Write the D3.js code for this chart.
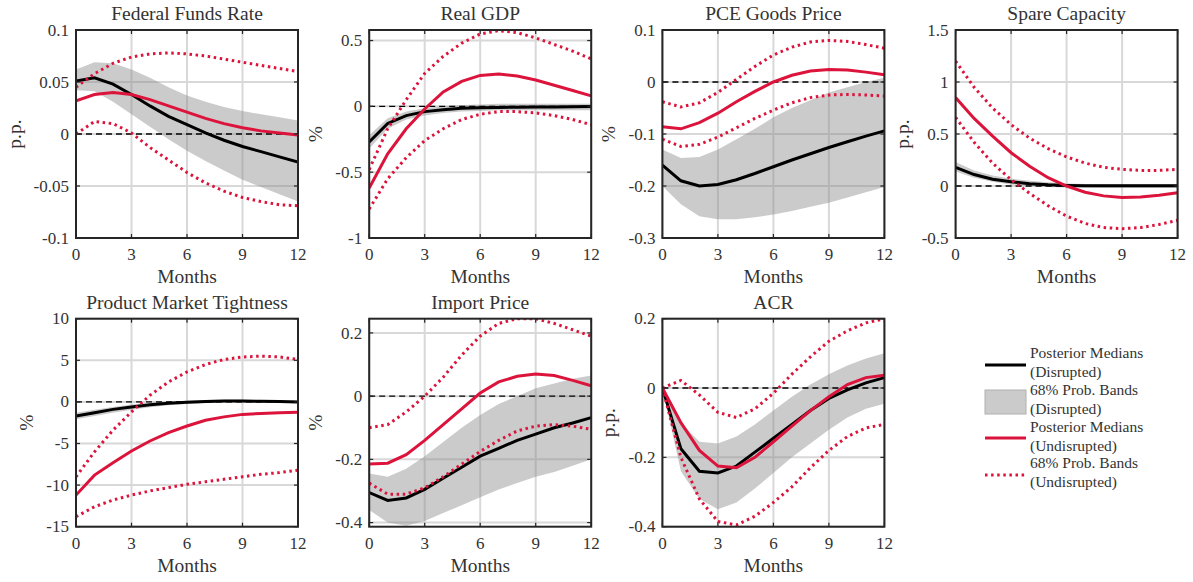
<!DOCTYPE html>
<html>
<head>
<meta charset="utf-8">
<script src="https://cdn.jsdelivr.net/npm/d3@7"></script>
<style>
  body { margin: 0; background: #fff; }
  svg { display: block; }
  text { font-family: "Liberation Serif", "DejaVu Serif", serif; fill: #333; }
</style>
</head>
<body>
<div id="container"></div>
<script>

// horizon (months) and x ticks
var months = [0,1,2,3,4,5,6,7,8,9,10,11,12];
var xTicks = [0,3,6,9,12];

// Federal Funds Rate
var ffrMedD = [0.051,0.054,0.048,0.038,0.027,0.017,0.009,0.001,-0.006,-0.012,-0.017,-0.022,-0.027];
var ffrHiD  = [0.062,0.069,0.068,0.062,0.054,0.045,0.037,0.031,0.026,0.022,0.019,0.016,0.013];
var ffrLoD  = [0.042,0.041,0.031,0.019,0.007,-0.005,-0.016,-0.026,-0.035,-0.044,-0.051,-0.058,-0.065];
var ffrMedU = [0.032,0.038,0.040,0.038,0.033,0.027,0.021,0.015,0.010,0.006,0.003,0.001,-0.001];
var ffrHiU  = [0.045,0.058,0.068,0.074,0.077,0.078,0.077,0.075,0.072,0.069,0.066,0.063,0.060];
var ffrLoU  = [0.000,0.012,0.010,0.001,-0.013,-0.025,-0.037,-0.047,-0.055,-0.061,-0.065,-0.068,-0.069];

// Real GDP
var gdpMedD = [-0.27,-0.13,-0.07,-0.04,-0.025,-0.015,-0.01,-0.008,-0.006,-0.005,-0.004,-0.003,-0.002];
var gdpHiD  = [-0.22,-0.09,-0.04,-0.015,0.0,0.01,0.015,0.02,0.02,0.02,0.02,0.02,0.02];
var gdpLoD  = [-0.32,-0.17,-0.10,-0.07,-0.05,-0.04,-0.035,-0.03,-0.03,-0.03,-0.03,-0.03,-0.03];
var gdpMedU = [-0.62,-0.36,-0.17,-0.02,0.11,0.19,0.235,0.245,0.23,0.20,0.16,0.12,0.08];
var gdpHiU  = [-0.48,-0.17,0.05,0.25,0.38,0.48,0.55,0.575,0.56,0.52,0.47,0.42,0.36];
var gdpLoU  = [-0.78,-0.55,-0.39,-0.26,-0.17,-0.10,-0.06,-0.04,-0.04,-0.05,-0.07,-0.10,-0.14];

// PCE Goods Price
var pceMedD = [-0.16,-0.19,-0.20,-0.197,-0.188,-0.176,-0.163,-0.15,-0.138,-0.126,-0.115,-0.104,-0.094];
var pceHiD  = [-0.13,-0.146,-0.144,-0.13,-0.11,-0.09,-0.068,-0.05,-0.035,-0.02,-0.01,0.0,0.008];
var pceLoD  = [-0.20,-0.235,-0.258,-0.264,-0.264,-0.26,-0.255,-0.248,-0.24,-0.232,-0.222,-0.212,-0.202];
var pceMedU = [-0.086,-0.09,-0.078,-0.06,-0.038,-0.018,0.0,0.013,0.021,0.024,0.023,0.019,0.014];
var pceHiU  = [-0.038,-0.048,-0.04,-0.02,0.005,0.03,0.052,0.067,0.077,0.08,0.078,0.072,0.065];
var pceLoU  = [-0.11,-0.124,-0.12,-0.106,-0.088,-0.07,-0.054,-0.04,-0.03,-0.025,-0.024,-0.025,-0.027];

// Spare Capacity
var scMedD = [0.18,0.11,0.065,0.04,0.022,0.012,0.006,0.003,0.002,0.002,0.002,0.002,0.002];
var scHiD  = [0.23,0.15,0.10,0.07,0.05,0.035,0.025,0.02,0.02,0.02,0.02,0.02,0.02];
var scLoD  = [0.14,0.08,0.04,0.015,0.0,-0.01,-0.015,-0.018,-0.02,-0.02,-0.02,-0.02,-0.02];
var scMedU = [0.85,0.65,0.48,0.32,0.19,0.08,0.0,-0.06,-0.095,-0.11,-0.105,-0.09,-0.065];
var scHiU  = [1.2,0.95,0.75,0.59,0.46,0.36,0.28,0.22,0.18,0.16,0.15,0.15,0.16];
var scLoU  = [0.66,0.42,0.22,0.06,-0.07,-0.19,-0.29,-0.36,-0.40,-0.41,-0.40,-0.37,-0.33];

// Product Market Tightness
var pmtMedD = [-1.7,-1.3,-0.9,-0.6,-0.35,-0.15,-0.05,0.05,0.1,0.1,0.08,0.05,0.0];
var pmtHiD  = [-1.3,-0.95,-0.6,-0.3,-0.1,0.05,0.15,0.22,0.25,0.25,0.22,0.2,0.17];
var pmtLoD  = [-2.1,-1.7,-1.3,-0.95,-0.65,-0.4,-0.25,-0.12,-0.05,-0.03,-0.05,-0.1,-0.15];
var pmtMedU = [-11.2,-8.8,-7.3,-5.9,-4.7,-3.7,-2.9,-2.2,-1.8,-1.5,-1.4,-1.3,-1.25];
var pmtHiU  = [-9.0,-6.0,-3.4,-1.2,0.8,2.4,3.6,4.5,5.1,5.4,5.5,5.4,5.1];
var pmtLoU  = [-13.8,-12.6,-11.8,-11.2,-10.7,-10.3,-9.9,-9.6,-9.3,-9.0,-8.7,-8.5,-8.2];

// Import Price
var impMedD = [-0.305,-0.33,-0.322,-0.295,-0.26,-0.225,-0.19,-0.165,-0.14,-0.12,-0.10,-0.085,-0.068];
var impHiD  = [-0.245,-0.255,-0.23,-0.19,-0.145,-0.10,-0.06,-0.025,0.0,0.025,0.04,0.055,0.065];
var impLoD  = [-0.36,-0.40,-0.41,-0.395,-0.37,-0.345,-0.32,-0.295,-0.275,-0.255,-0.24,-0.22,-0.20];
var impMedU = [-0.215,-0.212,-0.185,-0.14,-0.09,-0.04,0.01,0.045,0.063,0.07,0.065,0.05,0.033];
var impHiU  = [-0.10,-0.09,-0.05,0.0,0.06,0.13,0.19,0.23,0.245,0.245,0.23,0.21,0.19];
var impLoU  = [-0.275,-0.31,-0.31,-0.29,-0.255,-0.215,-0.175,-0.14,-0.11,-0.095,-0.09,-0.095,-0.105];

// ACR
var acrMedD = [0.0,-0.175,-0.24,-0.245,-0.225,-0.185,-0.145,-0.105,-0.065,-0.03,-0.005,0.015,0.03];
var acrHiD  = [0.0,-0.10,-0.155,-0.16,-0.14,-0.105,-0.065,-0.025,0.01,0.04,0.065,0.085,0.10];
var acrLoD  = [0.0,-0.24,-0.32,-0.35,-0.33,-0.29,-0.245,-0.20,-0.16,-0.12,-0.085,-0.06,-0.045];
var acrMedU = [0.0,-0.10,-0.18,-0.225,-0.23,-0.20,-0.155,-0.11,-0.065,-0.025,0.01,0.03,0.037];
var acrHiU  = [0.0,0.022,-0.02,-0.07,-0.085,-0.06,-0.015,0.04,0.09,0.135,0.165,0.188,0.20];
var acrLoU  = [0.0,-0.20,-0.32,-0.385,-0.395,-0.37,-0.33,-0.285,-0.23,-0.18,-0.14,-0.115,-0.105];

var legendLabels = [
  ["Posterior Medians", "(Disrupted)"],
  ["68% Prob. Bands", "(Disrupted)"],
  ["Posterior Medians", "(Undisrupted)"],
  ["68% Prob. Bands", "(Undisrupted)"]
];

var panels = [
  {title: "Federal Funds Rate", unit: "p.p.", ylim: [-0.1, 0.1], yTicks: [-0.1,-0.05,0,0.05,0.1],
   medD: ffrMedD, hiD: ffrHiD, loD: ffrLoD, medU: ffrMedU, hiU: ffrHiU, loU: ffrLoU},
  {title: "Real GDP", unit: "%", ylim: [-1, 0.58], yTicks: [-1,-0.5,0,0.5],
   medD: gdpMedD, hiD: gdpHiD, loD: gdpLoD, medU: gdpMedU, hiU: gdpHiU, loU: gdpLoU},
  {title: "PCE Goods Price", unit: "%", ylim: [-0.3, 0.1], yTicks: [-0.3,-0.2,-0.1,0,0.1],
   medD: pceMedD, hiD: pceHiD, loD: pceLoD, medU: pceMedU, hiU: pceHiU, loU: pceLoU},
  {title: "Spare Capacity", unit: "p.p.", ylim: [-0.5, 1.5], yTicks: [-0.5,0,0.5,1,1.5],
   medD: scMedD, hiD: scHiD, loD: scLoD, medU: scMedU, hiU: scHiU, loU: scLoU},
  {title: "Product Market Tightness", unit: "%", ylim: [-15, 10], yTicks: [-15,-10,-5,0,5,10],
   medD: pmtMedD, hiD: pmtHiD, loD: pmtLoD, medU: pmtMedU, hiU: pmtHiU, loU: pmtLoU},
  {title: "Import Price", unit: "%", ylim: [-0.413, 0.245], yTicks: [-0.4,-0.2,0,0.2],
   medD: impMedD, hiD: impHiD, loD: impLoD, medU: impMedU, hiU: impHiU, loU: impLoU},
  {title: "ACR", unit: "p.p.", ylim: [-0.4, 0.2], yTicks: [-0.4,-0.2,0,0.2],
   medD: acrMedD, hiD: acrHiD, loD: acrLoD, medU: acrMedU, hiU: acrHiU, loU: acrLoU}
];

var width = 1193, height = 582;
var red = "#dc143c";
var ink = "#262626";

var svg = d3.select("div#container")
  .append("svg")
  .attr("width", width)
  .attr("height", height)
  .attr("viewBox", "0 0 " + width + " " + height);

// panel geometry
var plotW = 222, plotH = 208;
var colX = [76, 369.2, 662.4, 955.6];
var rowY = [30, 318.7];

panels.forEach(function(p, i) {
  var x0 = colX[i % 4], y0 = rowY[Math.floor(i / 4)];

  var x = d3.scaleLinear().domain([0, 12]).range([0, plotW]);
  var y = d3.scaleLinear().domain(p.ylim).range([plotH, 0]);

  var g = svg.append("g").attr("transform", "translate(" + x0 + "," + y0 + ")");

  var clipId = "clip" + i;
  g.append("clipPath").attr("id", clipId)
    .append("rect").attr("width", plotW).attr("height", plotH);

  // background grid (light, under data)
  g.selectAll(".vgrid").data(xTicks).enter().append("line")
    .attr("x1", function(d) { return x(d); }).attr("x2", function(d) { return x(d); })
    .attr("y1", 0).attr("y2", plotH)
    .attr("stroke", "#d8d8d8").attr("stroke-width", 2);
  g.selectAll(".hgrid").data(p.yTicks).enter().append("line")
    .attr("x1", 0).attr("x2", plotW)
    .attr("y1", function(d) { return y(d); }).attr("y2", function(d) { return y(d); })
    .attr("stroke", "#d8d8d8").attr("stroke-width", 2);

  var plot = g.append("g").attr("clip-path", "url(#" + clipId + ")");

  // probability band (disrupted)
  var area = d3.area()
    .x(function(d, j) { return x(months[j]); })
    .y0(function(d, j) { return y(p.loD[j]); })
    .y1(function(d, j) { return y(p.hiD[j]); });
  plot.append("path").datum(months)
    .attr("d", area)
    .attr("fill", "#8c8c8c")
    .attr("fill-opacity", 0.45);

  // zero line
  plot.append("line")
    .attr("x1", 0).attr("x2", plotW)
    .attr("y1", y(0)).attr("y2", y(0))
    .attr("stroke", "#000").attr("stroke-width", 1.4)
    .attr("stroke-dasharray", "6,4");

  var line = function(vals) {
    return d3.line()
      .x(function(d, j) { return x(months[j]); })
      .y(function(d) { return y(d); })(vals);
  };

  plot.append("path").attr("d", line(p.medD))
    .attr("fill", "none").attr("stroke", "#000").attr("stroke-width", 3);

  [p.hiU, p.loU].forEach(function(vals) {
    plot.append("path").attr("d", line(vals))
      .attr("fill", "none").attr("stroke", red).attr("stroke-width", 3)
      .attr("stroke-dasharray", "2.5,3.6");
  });

  plot.append("path").attr("d", line(p.medU))
    .attr("fill", "none").attr("stroke", red).attr("stroke-width", 3);

  // ticks (inward, all four sides)
  var tl = 4;
  xTicks.forEach(function(t) {
    g.append("line").attr("x1", x(t)).attr("x2", x(t)).attr("y1", plotH).attr("y2", plotH - tl)
      .attr("stroke", ink).attr("stroke-width", 1.2);
    g.append("line").attr("x1", x(t)).attr("x2", x(t)).attr("y1", 0).attr("y2", tl)
      .attr("stroke", ink).attr("stroke-width", 1.2);
  });
  p.yTicks.forEach(function(t) {
    g.append("line").attr("x1", 0).attr("x2", tl).attr("y1", y(t)).attr("y2", y(t))
      .attr("stroke", ink).attr("stroke-width", 1.2);
    g.append("line").attr("x1", plotW).attr("x2", plotW - tl).attr("y1", y(t)).attr("y2", y(t))
      .attr("stroke", ink).attr("stroke-width", 1.2);
  });

  // box
  g.append("rect").attr("width", plotW).attr("height", plotH)
    .attr("fill", "none").attr("stroke", ink).attr("stroke-width", 2);

  // tick labels
  g.selectAll(".xlab").data(xTicks).enter().append("text")
    .attr("x", function(d) { return x(d); })
    .attr("y", plotH + 22)
    .attr("text-anchor", "middle")
    .style("font-size", "17px")
    .text(function(d) { return String(d); });

  var maxW = 0;
  g.selectAll(".ylab").data(p.yTicks).enter().append("text")
    .attr("x", -7)
    .attr("y", function(d) { return y(d); })
    .attr("dy", "0.33em")
    .attr("text-anchor", "end")
    .style("font-size", "17px")
    .text(function(d) { return String(d); })
    .each(function() { maxW = Math.max(maxW, this.getComputedTextLength()); });

  // title and axis labels
  g.append("text")
    .attr("x", plotW / 2).attr("y", -10)
    .attr("text-anchor", "middle")
    .style("font-size", "19.5px")
    .text(p.title);

  g.append("text")
    .attr("x", plotW / 2).attr("y", plotH + 45)
    .attr("text-anchor", "middle")
    .style("font-size", "19.5px")
    .text("Months");

  g.append("text")
    .attr("transform", "translate(" + (-maxW - 20) + "," + (plotH / 2) + ") rotate(-90)")
    .attr("text-anchor", "middle")
    .style("font-size", "19.5px")
    .text(p.unit);
});

// legend
var lg = svg.append("g").attr("transform", "translate(985,0)");
var sampleW = 41;
lg.append("line").attr("x1", 0).attr("x2", sampleW).attr("y1", 365).attr("y2", 365)
  .attr("stroke", "#000").attr("stroke-width", 3);
lg.append("rect").attr("x", 0).attr("y", 390).attr("width", sampleW).attr("height", 24)
  .attr("fill", "#8c8c8c").attr("fill-opacity", 0.45)
  .attr("stroke", "#b0b0b0").attr("stroke-width", 1);
lg.append("line").attr("x1", 0).attr("x2", sampleW).attr("y1", 438).attr("y2", 438)
  .attr("stroke", red).attr("stroke-width", 3);
lg.append("line").attr("x1", 0).attr("x2", sampleW).attr("y1", 475).attr("y2", 475)
  .attr("stroke", red).attr("stroke-width", 3).attr("stroke-dasharray", "2.5,3.6");

var legendBase = [358, 395, 432, 468];
legendLabels.forEach(function(lines, k) {
  lines.forEach(function(s, m) {
    lg.append("text")
      .attr("x", 45)
      .attr("y", legendBase[k] + m * 18.5)
      .style("font-size", "15.5px")
      .text(s);
  });
});

</script>
</body>
</html>
